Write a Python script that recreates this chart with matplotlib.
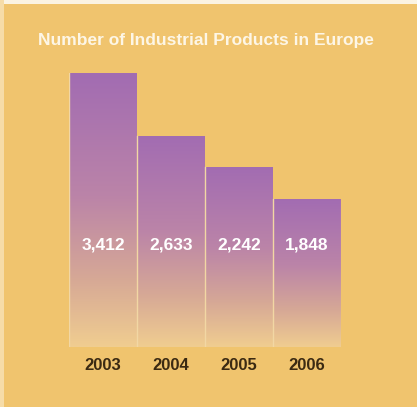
import numpy as np
import matplotlib
matplotlib.use("Agg")
import matplotlib.pyplot as plt
from matplotlib.colors import LinearSegmentedColormap
from matplotlib.patches import Rectangle

years = ["2003", "2004", "2005", "2006"]
products = [3412, 2633, 2242, 1848]
value_labels = ["3,412", "2,633", "2,242", "1,848"]
title = "Number of Industrial Products in Europe"

bg = "#f0c46e"
cmap = LinearSegmentedColormap.from_list(
    "bar", [(0.0, "#a26cb2"), (0.45, "#bb84a8"), (0.75, "#d6a896"), (1.0, "#f0cd90")])

fig = plt.figure(figsize=(4.17, 4.07), dpi=100, facecolor=bg)
# thin white border top / left
fig.patches.append(Rectangle((0, 1 - 4 / 407), 1, 4 / 407, transform=fig.transFigure,
                             facecolor="#fbf3e2", edgecolor="none"))
fig.patches.append(Rectangle((0, 0), 4 / 417, 1, transform=fig.transFigure,
                             facecolor="#f6dca8", edgecolor="none"))

ax = fig.add_axes([69 / 417, 60 / 407, 272 / 417, 274 / 407])
ax.set_facecolor("none")
ax.set_xlim(-0.5, 3.5)
ax.set_ylim(0, max(products))

bars = ax.bar(range(len(years)), products, width=1.0, color="none",
              edgecolor="none")
grad = np.linspace(0, 1, 256).reshape(-1, 1)
for b in bars:
    x0 = b.get_x()
    h = b.get_height()
    im = ax.imshow(grad, cmap=cmap, aspect="auto", origin="upper",
                   extent=[x0, x0 + b.get_width(), 0, h], zorder=2)
    im.set_clip_path(b)
    # light separator at bar edges
    ax.plot([x0, x0], [0, h], color="#f2d7a4", lw=1.0, zorder=3)
ax.plot([bars[-1].get_x() + 1, bars[-1].get_x() + 1], [0, products[-1]],
        color="#f2d7a4", lw=0.8, zorder=3)
ax.set_xlim(-0.5, 3.5)
ax.set_ylim(0, max(products))

for i, lab in enumerate(value_labels):
    ax.text(i, 0.372, lab, transform=ax.get_xaxis_transform(), ha="center", va="center",
            color="white", fontsize=12.5, fontweight="bold",
            family=["Liberation Sans", "DejaVu Sans"], zorder=4)

ax.set_xticks(range(len(years)), years)
ax.tick_params(axis="x", length=0, pad=8, labelsize=12, labelcolor="#3b2a12")
for t in ax.get_xticklabels():
    t.set_fontweight("bold")
    t.set_family(["Liberation Sans", "DejaVu Sans"])
ax.set_yticks([])
for s in ax.spines.values():
    s.set_visible(False)

fig.text(206 / 417, 1 - 41 / 407, title, ha="center", va="center", color="#fdf6e6",
         fontsize=12.5, fontweight="bold", family=["Liberation Sans", "DejaVu Sans"])

fig.savefig("out.png", dpi=100, facecolor=bg)
